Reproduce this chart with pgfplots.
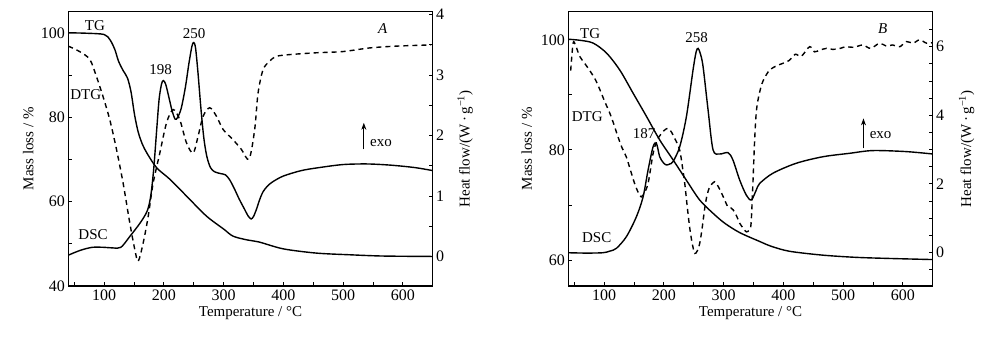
\documentclass[border=0pt]{standalone}
\usepackage{fontspec}
\setmainfont{Liberation Serif}
\usepackage{pgfplots}
\pgfplotsset{compat=1.18}
\usetikzlibrary{arrows.meta}
\newcommand\fs{\fontsize{15bp}{17bp}\selectfont}
\newcommand\ft{\fontsize{16bp}{18bp}\selectfont}
\pgfplotsset{
  base/.style={
    width=364.4bp, height=274.3bp, scale only axis,
    xmin=40, xmax=650,
    anchor=south west,
    tick align=inside,
    major tick length=4bp, minor tick length=4bp,
    tick label style={font=\ft},
    label style={font=\fs},
    axis line style={line width=1.2bp},
    every tick/.style={black, line width=0.9bp},
    /pgf/number format/assume math mode=true,
  },
  leftax/.style={
    xtick={100,200,...,600}, minor xtick={50,150,...,550},
    xtick pos=left, ytick pos=left,
    xlabel={Temperature / °C},
    ylabel={Mass loss / \%},
    xlabel style={at={(rel axis cs:0.5,-0.098)},anchor=center},
  },
  rightax/.style={
    axis x line=none, axis y line*=right,
    ylabel={Heat flow/(W\,·\,g\textsuperscript{−1})},
  },
  solidc/.style={black, line width=1.4bp, smooth, no markers},
  dashc/.style={black, line width=1.4bp, smooth, no markers, dash pattern=on 5bp off 4bp},
}
\begin{document}
\begin{tikzpicture}[font=\fs]
\path[use as bounding box] (0,0) rectangle (1000bp,343bp);
% ---------------- Panel A ----------------
\begin{axis}[base, leftax, at={(68.3bp,57bp)},
  ymin=40, ymax=105, ytick={40,60,80,100}, minor ytick={50,70,90},
  ylabel style={at={(rel axis cs:-0.11,0.5)},anchor=center}]
\addplot[solidc] coordinates {
(40,100.0) (70,99.9) (100,99.6) (110,98.3) (118,96.0) (124,93.3) (132,91.0) (139,89.3)
(145,86.0) (151,80.5) (157,76.5) (164,73.6) (172,71.4) (188,68.0) (210,65.3) (238,61.3) (271,56.6)
(300,53.5) (316,51.8) (340,50.9) (360,50.4) (400,48.8) (455,47.8) (511,47.4)
(567,47.1) (650,47.0)};
\node at (rel axis cs:0.073,0.951) {TG};
\node at (rel axis cs:0.048,0.696) {DTG};
\node at (rel axis cs:0.068,0.186) {DSC};
\node at (rel axis cs:0.2536,0.79) {198};
\node at (rel axis cs:0.345,0.921) {250};
\node at (rel axis cs:0.863,0.937) {\textit{A}};
\draw[-{Stealth[length=7bp,width=5bp]}, line width=1bp] (rel axis cs:0.811,0.498) -- (rel axis cs:0.811,0.595);
\node at (rel axis cs:0.858,0.52) {exo};
\end{axis}
\begin{axis}[base, rightax, at={(68.3bp,57bp)},
  ymin=-0.49, ymax=4.05, ytick={0,1,2,3,4}, minor ytick={0.5,1.5,2.5,3.5},
  ylabel style={at={(rel axis cs:1.089,0.5)},anchor=center}]
\addplot[solidc] coordinates {
(40,0.02) (60,0.10) (80,0.15) (100,0.15) (115,0.14) (128,0.15) (143,0.33)
(160,0.55) (172,0.75) (178,1.0) (183,1.45) (188,2.1) (192,2.6) (196,2.85)
(199,2.91) (203,2.85) (208,2.65) (214,2.40) (219,2.27) (223,2.30) (229,2.45)
(236,2.80) (242,3.20) (247,3.48) (250,3.54) (253,3.45) (257,3.05) (262,2.45)
(267,1.95) (272,1.65) (278,1.47) (285,1.40) (295,1.37) (303,1.35) (310,1.27)
(318,1.12) (326,0.95) (334,0.80) (341,0.67) (346,0.62) (350,0.66) (355,0.78)
(360,0.93) (366,1.07) (374,1.17) (383,1.24) (400,1.33) (430,1.42) (460,1.47)
(500,1.52) (540,1.53) (580,1.51) (620,1.47) (650,1.42)};
\addplot[dashc] coordinates {
(40,3.48) (59,3.39) (76,3.26) (87,2.98) (98,2.65) (109.5,2.26) (120.7,1.77)
(131.8,1.21) (143,0.55) (151.4,0.11) (157,-0.08) (165.3,0.22) (173.7,0.66)
(182,1.21) (193.2,1.71) (204.4,2.21) (215.5,2.43) (226.7,2.26) (237.8,1.88)
(249,1.71) (257.3,1.99) (265.7,2.32) (276.8,2.46) (288,2.32) (299.2,2.10)
(315.9,1.93) (329.8,1.77) (342.6,1.61) (352,2.10) (357.6,2.70) (366,3.09)
(377,3.23) (388,3.31) (410.5,3.34) (455,3.37) (499.6,3.39) (544.2,3.45)
(588.8,3.48) (647.3,3.50)};
\end{axis}
% ---------------- Panel B ----------------
\begin{axis}[base, leftax, at={(568.3bp,57bp)},
  ymin=55.3, ymax=105.1, ytick={60,80,100}, minor ytick={70,90},
  ylabel style={at={(rel axis cs:-0.114,0.5)},anchor=center}]
\addplot[solidc] coordinates {
(40,100.1) (60,99.9) (81.6,99.4) (103.9,97.6) (126.2,94.5) (148.5,90.3)
(170.8,86.1) (193.1,81.8) (215.4,78.2) (237.7,74.5) (260,70.9) (282.3,68.5)
(301.8,66.7) (326.8,65.0) (360,63.4) (380,62.5) (410.5,61.6) (466,60.9)
(522,60.5) (577.7,60.3) (650,60.1)};
\node at (rel axis cs:0.06,0.921) {TG};
\node at (rel axis cs:0.052,0.617) {DTG};
\node at (rel axis cs:0.078,0.178) {DSC};
\node at (rel axis cs:0.208,0.557) {187};
\node at (rel axis cs:0.352,0.907) {258};
\node at (rel axis cs:0.863,0.937) {\textit{B}};
\draw[-{Stealth[length=7bp,width=5bp]}, line width=1bp] (rel axis cs:0.81,0.502) -- (rel axis cs:0.81,0.611);
\node at (rel axis cs:0.857,0.55) {exo};
\end{axis}
\begin{axis}[base, rightax, at={(568.3bp,57bp)},
  ymin=-0.98, ymax=7.02, ytick={0,2,4,6},
  minor ytick={-0.5,0.5,1,1.5,2.5,3,3.5,4.5,5,5.5,6.5},
  ylabel style={at={(rel axis cs:1.093,0.5)},anchor=center}]
\addplot[solidc] coordinates {
(40,-0.01) (70,-0.02) (98,-0.01) (110,0.04) (120.6,0.12) (137.3,0.46)
(154,1.04) (165.2,1.62) (173.5,2.40) (181.9,3.08) (187.5,3.18) (193,2.79)
(199,2.62) (204.2,2.55) (210,2.58) (215.4,2.65) (226.5,3.08) (237.7,3.96)
(248.8,5.32) (254,5.85) (257.2,5.95) (261,5.8) (265.6,5.42) (274,4.15)
(282.3,2.99) (293.5,2.87) (307.4,2.91) (315.7,2.69) (326.9,2.11) (338,1.67)
(346.4,1.53) (354.7,1.82) (360.3,2.01) (382.6,2.31) (421.6,2.60) (466.2,2.79)
(510.8,2.89) (549.8,2.97) (605.6,2.94) (650,2.87)};
\addplot[dashc] coordinates {
(44,5.3) (48,6.1) (52,6.05) (59,5.72) (68,5.5) (76,5.3) (85,5.05) (93,4.74)
(101,4.4) (109.5,4.06) (116,3.75) (123,3.38) (130,3.05) (137,2.79) (144,2.4)
(151,2.01) (157,1.75) (162,1.62) (168,1.75) (174,2.05) (182,2.89) (188,3.25)
(193,3.40) (200,3.55) (207,3.62) (213,3.5) (218,3.33) (223,3.15) (227,2.95)
(231,2.5) (235,2.0) (239,1.35) (243,0.75) (247,0.3) (251.6,-0.03) (256,0.05)
(260,0.26) (264,0.7) (268,1.24) (272,1.65) (277,1.92) (285,2.06) (290,1.95)
(294,1.82) (300,1.6) (307,1.33) (312,1.3) (316,1.24) (322,1.05) (327,0.85)
(333,0.7) (338,0.6) (343,0.65) (346,0.85) (349,2.0) (352,3.3) (355,4.15)
(360,4.65) (366,5.0) (377,5.32) (390,5.45) (400,5.52) (410,5.6) (420,5.78)
(430,5.72) (444,6.0) (452,5.85) (461,5.9) (472,5.95) (483,5.92) (495,5.95)
(505,6.0) (518,5.98) (533,6.05) (546,5.95) (561,6.1) (572,6.02) (583,6.05)
(595,6.0) (606,6.15) (617,6.1) (628,6.2) (640,6.1) (650,6.12)};
\end{axis}
\end{tikzpicture}
\end{document}
